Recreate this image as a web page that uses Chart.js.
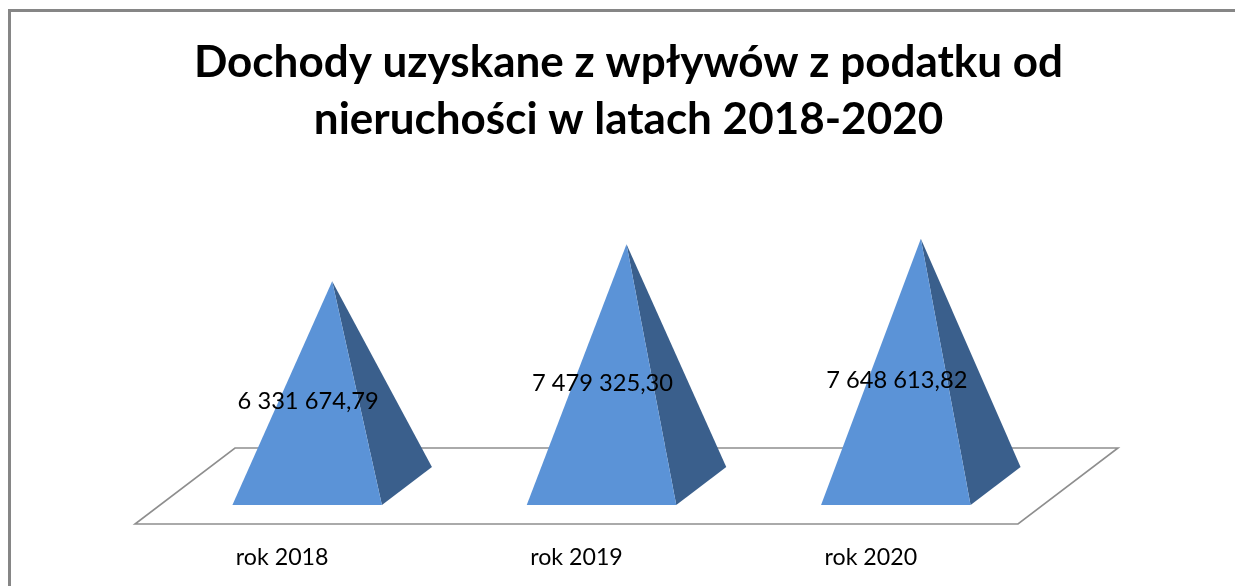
<!DOCTYPE html>
<html><head><meta charset="utf-8">
<script src="https://cdn.jsdelivr.net/npm/chart.js@4/dist/chart.umd.js"></script>
<style>html,body{margin:0;padding:0;background:#fff}canvas{display:block}</style>
</head><body>
<div style="width:1235px;height:586px"><canvas id="c"></canvas></div>
<script>
const categories = ['rok 2018', 'rok 2019', 'rok 2020'];
const values = [6331674.79, 7479325.30, 7648613.82];
const titleLines = ['Dochody uzyskane z wpływów z podatku od', 'nieruchości w latach 2018-2020'];

const DEPTH_X = 100, DEPTH_Y = 76;
const FRONT = '#5B93D7', SIDE = '#3A5F8C', FRAME = '#868686', FLOOR = '#8E8E8E';
const FONT = 'Lato, Carlito, Calibri, sans-serif';

function formatValue(v) {
  const [i, d] = v.toFixed(2).split('.');
  return i.replace(/\B(?=(\d{3})+$)/g, ' ') + ',' + d;
}

class PyramidController extends Chart.BarController {
  draw() {
    const ctx = this.chart.ctx;
    const bars = this._cachedMeta.data;
    bars.forEach(bar => {
      const hw = bar.width / 2;
      const cx = bar.x + DEPTH_X / 2;
      const cy = bar.base - DEPTH_Y / 2;
      const fx = cx - DEPTH_X / 4, fy = cy + DEPTH_Y / 4;
      const bx = cx + DEPTH_X / 4, by = cy - DEPTH_Y / 4;
      const ax = cx, ay = bar.y - DEPTH_Y / 2;
      ctx.save();
      ctx.fillStyle = SIDE;
      ctx.beginPath();
      ctx.moveTo(ax, ay); ctx.lineTo(fx + hw, fy); ctx.lineTo(bx + hw, by); ctx.closePath();
      ctx.fill();
      ctx.fillStyle = FRONT;
      ctx.beginPath();
      ctx.moveTo(ax, ay); ctx.lineTo(fx - hw, fy); ctx.lineTo(fx + hw, fy); ctx.closePath();
      ctx.fill();
      ctx.restore();
    });
    const ys = this.chart.scales.y;
    ctx.save();
    ctx.font = '23.7px ' + FONT;
    ctx.fillStyle = '#000';
    ctx.textAlign = 'center';
    ctx.textBaseline = 'middle';
    bars.forEach((bar, i) => {
      ctx.fillText(formatValue(values[i]), bar.x + 26, ys.getPixelForValue(values[i] / 2) - 20);
    });
    ctx.restore();
  }
}
PyramidController.id = 'pyramid';
PyramidController.defaults = Chart.BarController.defaults;
PyramidController.overrides = Chart.BarController.overrides;
Chart.register(PyramidController);

const sceneryPlugin = {
  id: 'scenery',
  beforeDraw(chart) {
    const { ctx, width, height } = chart;
    ctx.save();
    ctx.fillStyle = '#fff';
    ctx.fillRect(0, 0, width, height);
    ctx.strokeStyle = FRAME;
    ctx.lineWidth = 3;
    ctx.strokeRect(9.5, 10.5, width + 40, height + 40);
    ctx.restore();
  },
  beforeDatasetsDraw(chart) {
    const { ctx, chartArea: a } = chart;
    ctx.save();
    ctx.strokeStyle = FLOOR;
    ctx.lineWidth = 1.6;
    ctx.beginPath();
    ctx.moveTo(a.left, a.bottom);
    ctx.lineTo(a.right, a.bottom);
    ctx.lineTo(a.right + DEPTH_X, a.bottom - DEPTH_Y);
    ctx.lineTo(a.left + DEPTH_X, a.bottom - DEPTH_Y);
    ctx.closePath();
    ctx.stroke();
    ctx.restore();
  }
};

new Chart(document.getElementById('c'), {
  type: 'pyramid',
  data: {
    labels: categories,
    datasets: [{ data: values, backgroundColor: FRONT, barPercentage: 1, categoryPercentage: 0.508, clip: false }]
  },
  plugins: [sceneryPlugin],
  options: {
    responsive: true,
    maintainAspectRatio: false,
    animation: false,
    events: [],
    layout: { padding: { left: 22, right: 0, top: 0, bottom: 0 } },
    plugins: {
      legend: { display: false },
      tooltip: { enabled: false },
      title: {
        display: true,
        text: titleLines,
        color: '#000',
        font: { family: FONT, size: 44, weight: 'bold', lineHeight: 1.295 },
        padding: { top: 34, bottom: 85 }
      }
    },
    scales: {
      x: {
        type: 'category',
        grid: { display: false },
        border: { display: false },
        ticks: { color: '#000', font: { family: FONT, size: 23.2 }, padding: 12, maxRotation: 0 },
        afterFit(s) { s.height = 62; }
      },
      y: {
        type: 'linear', min: 0, max: 9000000, position: 'left',
        grid: { display: false }, border: { display: false }, ticks: { display: false },
        afterFit(s) { s.width = 113; }
      },
      y2: {
        type: 'linear', min: 0, max: 9000000, position: 'right',
        grid: { display: false }, border: { display: false }, ticks: { display: false },
        afterFit(s) { s.width = 217; }
      }
    }
  }
});
</script>
</body></html>
